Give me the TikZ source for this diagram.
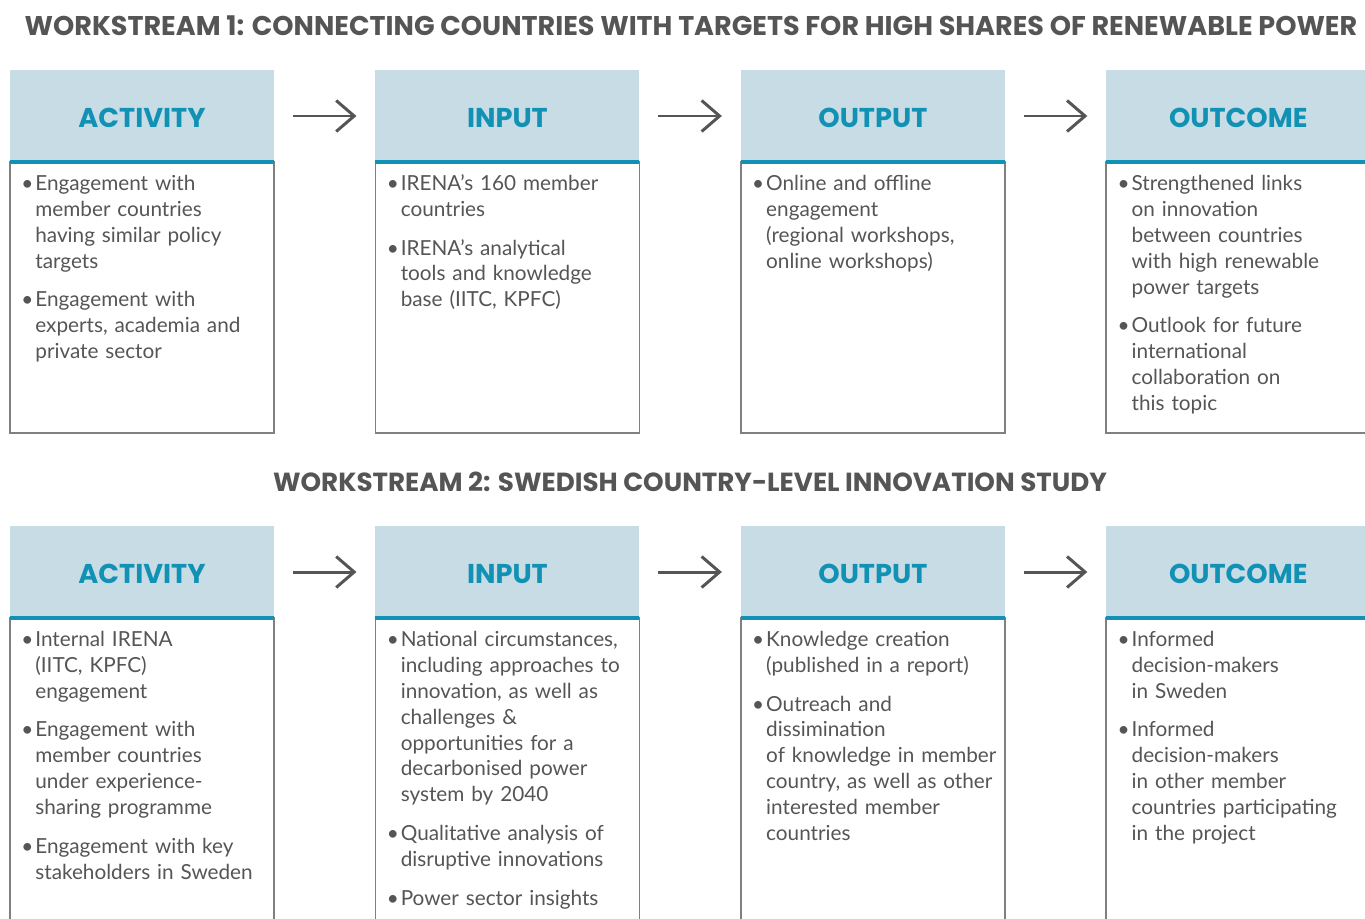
\documentclass[tikz,border=0pt]{standalone}
\usepackage{fontspec}
\setmainfont{Lato}
\newfontfamily\headfont{Poppins}
\usetikzlibrary{positioning,arrows.meta}

\definecolor{headblue}{HTML}{C8DCE6}
\definecolor{irteal}{HTML}{1192B4}
\definecolor{txtgray}{HTML}{555555}
\definecolor{boxgray}{HTML}{808080}

\newcommand{\itm}[1]{\noindent\makebox[0.28cm][l]{\textbullet}\begin{tabular}[t]{@{}l@{}}#1\end{tabular}\par\vspace{0.22cm}}

\tikzset{
  headbox/.style={rectangle,fill=headblue,minimum width=5.28cm,minimum height=1.84cm,
    inner sep=0pt,outer sep=0pt,text=irteal,text height=0.47cm,text depth=0pt,
    font=\headfont\bfseries\fontsize{15.5}{18}\selectfont},
  bodybox/.style={rectangle,draw=boxgray,line width=1pt,minimum width=5.28cm,inner sep=0pt,outer sep=0pt},
  tealline/.style={irteal,line width=2.3pt},
  itemtext/.style={anchor=north west,inner sep=0pt,text width=5cm,align=left,text=txtgray,
    font=\fontsize{11.8}{14.74}\selectfont},
  titletext/.style={text=txtgray,inner sep=0pt,font=\headfont\bfseries\fontsize{15.4}{18}\selectfont},
  flowarrow/.style={->,txtgray,line width=1.7pt,shorten >=0.38cm,shorten <=0.38cm}
}

\begin{document}
\begin{tikzpicture}[x=0.02cm,y=-0.02cm,node distance=7.31cm,
  >={Straight Barb[length=0.36cm,width=0.62cm]}]
\useasboundingbox (0,0) rectangle (1365,919);
\clip (0,0) rectangle (1365,919);

% workstream 1
\node[titletext] (ws1) at (691,26) {WORKSTREAM 1: CONNECTING COUNTRIES WITH TARGETS FOR HIGH SHARES OF RENEWABLE POWER};

\node[headbox] (act1) at (142,116)      {ACTIVITY};
\node[headbox] (inp1) [right of=act1]   {INPUT};
\node[headbox] (out1) [right of=inp1]   {OUTPUT};
\node[headbox] (res1) [right of=out1]   {OUTCOME};

\foreach \h in {act1,inp1,out1,res1}{
  \node[bodybox,anchor=north,minimum height=5.42cm] (\h b) at (\h.south) {};
  \draw[tealline] (\h.south west) -- (\h.south east);
}

\draw[flowarrow] (act1) -- (inp1);
\draw[flowarrow] (inp1) -- (out1);
\draw[flowarrow] (out1) -- (res1);

\node[itemtext] (act1t) at ([xshift=0.22cm,yshift=-0.2cm]act1b.north west) {%
  \itm{Engagement with\\member countries\\having similar policy\\targets}
  \itm{Engagement with\\experts, academia and\\private sector}};
\node[itemtext] (inp1t) at ([xshift=0.22cm,yshift=-0.2cm]inp1b.north west) {%
  \itm{IRENA’s 160 member\\countries}
  \itm{IRENA’s analytical\\tools and knowledge\\base (IITC, KPFC)}};
\node[itemtext] (out1t) at ([xshift=0.22cm,yshift=-0.2cm]out1b.north west) {%
  \itm{Online and offline\\engagement\\(regional workshops,\\online workshops)}};
\node[itemtext] (res1t) at ([xshift=0.22cm,yshift=-0.2cm]res1b.north west) {%
  \itm{Strengthened links\\on innovation\\between countries\\with high renewable\\power targets}
  \itm{Outlook for future\\international\\collaboration on\\this topic}};

% workstream 2
\node[titletext,font=\headfont\bfseries\fontsize{14.9}{18}\selectfont] (ws2) at (690,482) {WORKSTREAM 2: SWEDISH COUNTRY-LEVEL INNOVATION STUDY};

\node[headbox] (act2) at (142,572)      {ACTIVITY};
\node[headbox] (inp2) [right of=act2]   {INPUT};
\node[headbox] (out2) [right of=inp2]   {OUTPUT};
\node[headbox] (res2) [right of=out2]   {OUTCOME};

\foreach \h in {act2,inp2,out2,res2}{
  \node[bodybox,anchor=north,minimum height=7cm] (\h b) at (\h.south) {};
  \draw[tealline] (\h.south west) -- (\h.south east);
}

\draw[flowarrow] (act2) -- (inp2);
\draw[flowarrow] (inp2) -- (out2);
\draw[flowarrow] (out2) -- (res2);

\node[itemtext] (act2t) at ([xshift=0.22cm,yshift=-0.2cm]act2b.north west) {%
  \itm{Internal IRENA\\(IITC, KPFC)\\engagement}
  \itm{Engagement with\\member countries\\under experience-\\sharing programme}
  \itm{Engagement with key\\stakeholders in Sweden}};
\node[itemtext] (inp2t) at ([xshift=0.22cm,yshift=-0.2cm]inp2b.north west) {%
  \itm{National circumstances,\\including approaches to\\innovation, as well as\\challenges \&\\opportunities for a\\decarbonised power\\system by 2040}
  \itm{Qualitative analysis of\\disruptive innovations}
  \itm{Power sector insights}};
\node[itemtext] (out2t) at ([xshift=0.22cm,yshift=-0.2cm]out2b.north west) {%
  \itm{Knowledge creation\\(published in a report)}
  \itm{Outreach and\\dissimination\\of knowledge in member\\country, as well as other\\interested member\\countries}};
\node[itemtext] (res2t) at ([xshift=0.22cm,yshift=-0.2cm]res2b.north west) {%
  \itm{Informed\\decision-makers\\in Sweden}
  \itm{Informed\\decision-makers\\in other member\\countries participating\\in the project}};
\end{tikzpicture}
\end{document}
